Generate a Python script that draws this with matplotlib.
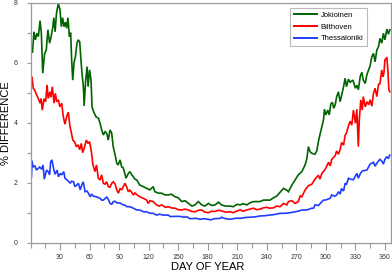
import matplotlib
matplotlib.use("Agg")
import matplotlib.pyplot as plt
from matplotlib.ticker import MultipleLocator

plt.rcParams["font.family"] = ["Liberation Sans", "DejaVu Sans"]

# ---- data (day of year, % difference) ----
jok_day = [1, 2, 3.5, 5, 6.5, 8, 9.7, 11, 12.4, 14.3, 16, 17.7, 19.4, 21, 22.7, 23.7,
           25, 26.4, 28.3, 30, 31.3, 32.6, 34, 35.4, 36.7, 38, 39.5, 40.8, 41.8, 42.9,
           44.2, 45.6, 47.2, 48.5, 50, 51, 52.3, 53.7, 54.5, 56, 57.5, 58.5, 60, 61.5,
           62.5, 64, 66.5, 69, 70.6, 72.3, 74, 75.7, 77.4, 79, 80.8, 82.5, 84, 86, 87.6,
           89, 91, 92.6, 94.3, 97, 99.4, 101, 102.8, 104.5, 106, 108, 111, 114.5, 118,
           121.3, 124.7, 126.3, 130, 133.3, 136, 140, 143, 146.8, 150, 153.7, 157, 160.4,
           164, 167, 170.5, 174, 177, 180.7, 184, 187.5, 191, 194, 198, 202.7, 206, 210,
           213, 216, 219.7, 223, 226.4, 230, 233, 236.6, 240, 243.4, 247, 250, 253.5,
           257, 260.4, 262, 265.5, 268.8, 272, 275.6, 277.3, 279, 280.7, 282.3, 284,
           285.8, 289, 290.8, 292.5, 294, 296, 297.6, 298.6, 300, 302, 303.5, 305, 306.7,
           308, 309.5, 311, 312.8, 314.5, 316, 318, 319.6, 321, 323, 324.7, 327.5, 330,
           331.5, 333, 335, 336.6, 338, 340, 341.7, 345, 346.7, 348.4, 350, 351.8, 353.5,
           355, 356.8, 358.5, 360, 362, 363.6, 365]
jok_val = [6.40, 6.33, 7.03, 6.76, 6.98, 6.87, 7.40, 7.00, 5.65, 6.30, 6.42, 7.10, 6.65,
           6.87, 7.20, 7.50, 7.03, 7.65, 7.98, 7.75, 7.20, 7.50, 7.20, 7.35, 7.15, 7.50,
           6.87, 7.00, 6.10, 5.42, 6.00, 6.20, 6.65, 6.76, 6.70, 6.20, 5.65, 5.20, 4.56,
           5.40, 5.87, 5.20, 5.76, 5.42, 4.53, 4.37, 4.20, 4.15, 3.99, 3.76, 3.59, 3.70,
           3.65, 3.42, 3.76, 3.65, 3.20, 2.92, 2.65, 2.59, 2.76, 2.53, 2.49, 2.15, 2.31,
           2.37, 2.26, 2.20, 2.12, 2.09, 1.92, 1.87, 1.81, 1.76, 1.87, 1.70, 1.65, 1.65,
           1.60, 1.59, 1.62, 1.53, 1.50, 1.37, 1.40, 1.31, 1.22, 1.26, 1.37, 1.26, 1.22,
           1.31, 1.24, 1.26, 1.35, 1.26, 1.22, 1.22, 1.20, 1.28, 1.26, 1.30, 1.26, 1.33,
           1.37, 1.37, 1.37, 1.42, 1.42, 1.42, 1.50, 1.55, 1.68, 1.81, 1.75, 1.70, 1.92,
           2.09, 2.26, 2.37, 2.48, 2.60, 2.80, 3.20, 3.03, 2.98, 2.95, 3.06, 3.38, 3.60,
           3.87, 4.09, 4.45, 4.26, 4.42, 4.26, 4.62, 4.68, 4.48, 4.59, 4.87, 5.03, 4.70,
           4.90, 5.20, 5.48, 5.20, 5.45, 5.35, 5.42, 5.15, 5.25, 5.10, 5.55, 5.68, 5.42,
           5.31, 5.60, 5.90, 6.20, 6.31, 6.03, 6.42, 6.53, 6.81, 6.65, 6.98, 6.76, 7.12,
           6.95, 7.10]

bil_day = [1, 1.5, 2.8, 4.6, 6.3, 8, 9.7, 10.7, 12, 13.7, 15.4, 16.8, 18, 19.8, 20.8,
           22.2, 23.9, 25.2, 26.6, 28.3, 29.8, 31.7, 33.3, 35, 36.7, 38.4, 40, 41.8, 43,
           45, 46.6, 48.3, 50, 51.6, 53, 55, 56.7, 58.4, 60, 61.8, 63.4, 65.5, 67, 68.9,
           70.6, 72.3, 74, 75.7, 77.4, 79, 80.8, 82.5, 84.2, 86, 87.6, 89.3, 91, 92.6,
           94.3, 96, 97.8, 99.4, 101, 102.8, 104.5, 106, 108, 111, 114.5, 118, 119.5,
           121.3, 124.7, 128, 130.7, 133.3, 137, 140, 143, 146.8, 150, 153.7, 157, 160.4,
           164, 167, 170.5, 174, 177, 180.7, 184, 187.5, 191, 194, 198, 202.7, 206, 210,
           213, 216, 219.7, 223, 226.4, 230, 233, 236.5, 240, 243, 246.7, 250, 253.5,
           257, 260.4, 262, 265.5, 268.8, 272, 274, 275.6, 279, 282.3, 285.8, 289, 292.5,
           294, 296, 299.4, 302.8, 304.4, 306, 309.5, 311, 312.8, 314.5, 316, 318, 319.6,
           321, 323, 324.7, 326.4, 328, 330, 331.5, 333, 334, 335.5, 337, 338, 340,
           341.7, 343.5, 345, 346.7, 348.4, 350, 351.8, 353.5, 355, 356.8, 358, 359, 360,
           362, 363, 364, 365]
bil_val = [5.30, 5.53, 5.15, 5.06, 4.92, 4.80, 4.65, 4.80, 4.42, 4.80, 4.70, 5.26, 4.81,
           5.03, 4.85, 5.20, 4.65, 4.98, 4.70, 4.76, 4.53, 4.65, 4.20, 3.95, 4.20, 4.35,
           3.90, 3.62, 3.42, 3.35, 3.20, 3.26, 3.10, 3.31, 3.00, 3.20, 3.42, 3.31, 3.37,
           3.05, 2.60, 2.37, 2.59, 2.15, 2.09, 2.26, 1.98, 1.95, 2.03, 1.87, 1.85, 1.98,
           2.03, 1.95, 1.76, 1.65, 1.81, 1.76, 1.87, 1.98, 1.85, 1.70, 1.75, 1.68, 1.59,
           1.66, 1.60, 1.53, 1.48, 1.42, 1.31, 1.40, 1.37, 1.26, 1.22, 1.26, 1.18, 1.20,
           1.16, 1.15, 1.10, 1.09, 1.12, 1.09, 1.04, 1.03, 1.08, 1.09, 1.02, 1.00, 1.05,
           1.04, 1.08, 1.06, 1.02, 1.03, 1.00, 1.06, 1.09, 1.05, 1.09, 1.12, 1.15, 1.10,
           1.12, 1.16, 1.18, 1.15, 1.16, 1.22, 1.20, 1.31, 1.26, 1.37, 1.40, 1.31, 1.37,
           1.56, 1.53, 1.76, 1.90, 1.95, 2.12, 2.25, 2.12, 2.31, 2.45, 2.68, 2.56, 2.78,
           2.90, 3.06, 2.95, 3.10, 3.34, 3.25, 3.58, 3.66, 3.90, 4.05, 3.92, 4.42, 3.98,
           4.45, 3.20, 4.09, 4.76, 4.42, 4.87, 4.53, 4.70, 4.60, 4.76, 4.55, 4.98, 5.15,
           4.87, 5.28, 5.30, 5.76, 5.53, 5.65, 6.09, 6.18, 5.76, 5.10, 5.03]

the_day = [1, 1.5, 2.5, 4.5, 6, 8, 9.3, 11.4, 12.7, 14, 16.3, 18, 19.4, 20.5, 21.8, 23.8,
           25, 27, 28.4, 30.4, 31.7, 33.8, 35, 37, 38.5, 40.4, 41.7, 43.8, 45, 47, 48.6,
           50.6, 52, 53.6, 55.4, 57.4, 58.8, 60.7, 62, 64, 67, 70.6, 72.3, 74, 77.4, 79,
           80.8, 82.5, 84.2, 86, 87.6, 91, 94.3, 96, 97.8, 101, 104.5, 108, 111, 115,
           118, 121.5, 124.7, 128, 131, 135, 140, 142, 148.6, 153.7, 155.4, 159, 162,
           167, 169, 172, 176, 180.7, 182.7, 187, 192.6, 194, 198, 202.7, 206, 210, 213,
           218, 223, 228, 233, 238, 243, 248, 253.6, 258.6, 264, 268.8, 274, 275.6,
           280.7, 285.8, 287.5, 289, 292.5, 296, 297.6, 299.4, 302, 304.4, 306, 309, 311,
           312.8, 314.5, 316, 318, 319.6, 321, 323, 324.7, 328, 331.5, 333, 335, 336.5,
           338, 341.7, 345, 348.4, 350, 351.8, 355, 356.8, 358.5, 360, 362, 363.5, 365]
the_val = [2.20, 2.73, 2.53, 2.56, 2.42, 2.48, 2.52, 2.45, 2.59, 2.12, 2.42, 2.37, 2.26,
           2.70, 2.76, 2.42, 2.28, 2.42, 2.20, 2.31, 2.26, 2.37, 2.15, 2.09, 2.05, 1.98,
           2.05, 2.03, 1.87, 1.92, 1.98, 1.76, 1.92, 2.03, 1.70, 1.72, 1.65, 1.53, 1.62,
           1.55, 1.53, 1.48, 1.42, 1.42, 1.52, 1.45, 1.31, 1.28, 1.37, 1.38, 1.33, 1.32,
           1.26, 1.25, 1.20, 1.20, 1.15, 1.09, 1.09, 1.03, 1.03, 0.98, 0.98, 0.92, 0.95,
           0.92, 0.92, 0.87, 0.88, 0.87, 0.85, 0.86, 0.80, 0.81, 0.81, 0.78, 0.80, 0.78,
           0.76, 0.80, 0.81, 0.85, 0.80, 0.78, 0.80, 0.82, 0.81, 0.84, 0.85, 0.86, 0.89,
           0.90, 0.92, 0.94, 0.98, 0.98, 1.00, 1.03, 1.07, 1.09, 1.09, 1.15, 1.15, 1.26,
           1.24, 1.37, 1.42, 1.42, 1.45, 1.48, 1.59, 1.55, 1.59, 1.70, 1.62, 1.81, 1.72,
           1.98, 1.95, 2.15, 2.12, 2.10, 2.31, 2.15, 2.30, 2.37, 2.40, 2.42, 2.62, 2.68,
           2.55, 2.65, 2.78, 2.72, 2.62, 2.78, 2.87, 2.80, 2.92]

names = ["Jokioinen", "Bilthoven", "Thessaloniki"]
colors = ["#006400", "#ff0000", "#1f3dff"]
x_ticks = [30, 60, 90, 120, 150, 180, 210, 240, 270, 300, 330, 360]
y_ticks = [0, 2, 4, 6, 8]

W, H = 392, 272
fig = plt.figure(figsize=(W / 100, H / 100), dpi=100)
ax = fig.add_axes([30.5 / W, 1 - 242.7 / H, 360.8 / W, 240 / H])

series = [(jok_day, jok_val), (bil_day, bil_val), (the_day, the_val)]
for (d, v), name, c in zip(series, names, colors):
    ax.plot(d, v, color=c, lw=1.2, label=name, solid_joinstyle="miter")

ax.set_xlim(0, 366.5)
ax.set_ylim(0, 8)
ax.set_xticks(x_ticks)
ax.set_yticks(y_ticks)
ax.xaxis.set_minor_locator(MultipleLocator(15))
ax.yaxis.set_minor_locator(MultipleLocator(1))

GRAY = "#9a9a9a"
for sp in ax.spines.values():
    sp.set_color(GRAY)
    sp.set_linewidth(0.9)
ax.tick_params(which="both", direction="out", color=GRAY, width=0.8,
               labelsize=5, labelcolor="#333333")
ax.tick_params(axis="x", which="major", length=5, pad=3)
ax.tick_params(axis="x", which="minor", length=3.5)
ax.tick_params(axis="y", which="major", length=3, pad=6)
ax.tick_params(axis="y", which="minor", length=3)

fig.text(208 / W, 1 - 267 / H, "DAY OF YEAR", ha="center", va="center", fontsize=8)
fig.text(6 / W, 1 - 122.7 / H, "% DIFFERENCE", ha="center", va="center",
         rotation=90, fontsize=8)

leg = ax.legend(loc="upper right", bbox_to_anchor=(367 / W, 1 - 8 / H),
                bbox_transform=fig.transFigure, fontsize=5.5, frameon=True,
                fancybox=False, edgecolor="#aaaaaa", handlelength=3.0,
                handletextpad=0.5, labelspacing=0.55, borderpad=0.5,
                borderaxespad=0)
leg.get_frame().set_linewidth(0.8)
for line in leg.get_lines():
    line.set_linewidth(1.4)

fig.savefig("out.png", dpi=100, facecolor="white")
